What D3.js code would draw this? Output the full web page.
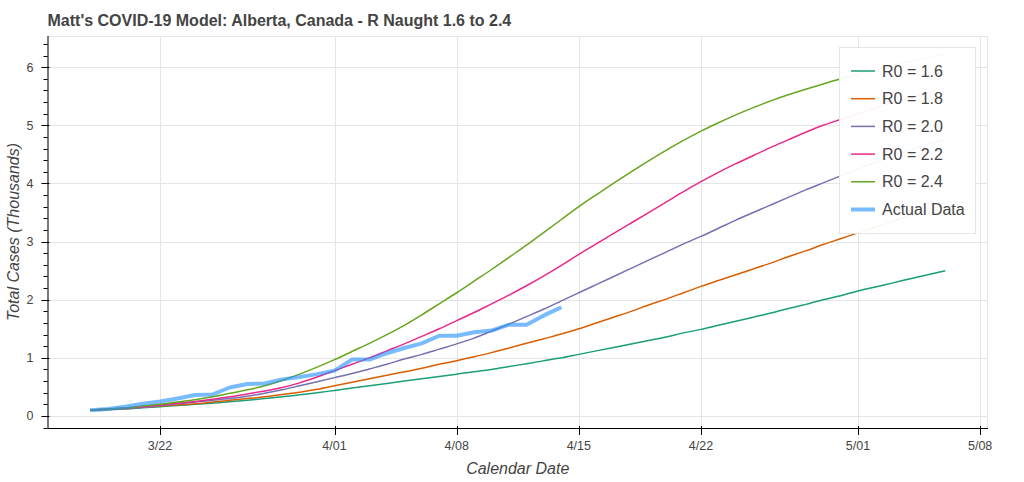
<!DOCTYPE html>
<html>
<head>
<meta charset="utf-8">
<script src="https://cdn.jsdelivr.net/npm/d3@7"></script>
<style>
  html, body { margin: 0; padding: 0; background: #fff; }
  svg { display: block; font-family: "Liberation Sans", Arial, Helvetica, sans-serif; }
</style>
</head>
<body>
<svg id="chart" width="1024" height="482"></svg>
<script>
// ---------- data ----------
const startDate = Date.UTC(2020, 2, 18); // 3/18
const seriesNames = ["R0 = 1.6", "R0 = 1.8", "R0 = 2.0", "R0 = 2.2", "R0 = 2.4"];
const seriesColors = ["#1b9e77", "#d95f02", "#7570b3", "#e7298a", "#66a61e"];

// model totals (thousands), one value per day from 3/18 to 5/06
const r16 = [0.10,0.11,0.12,0.14,0.16,0.18,0.20,0.22,0.245,0.27,0.30,0.33,0.365,0.40,
             0.44,0.48,0.52,0.56,0.60,0.64,0.68,0.72,0.76,0.80,0.85,0.90,0.95,1.00,
             1.06,1.12,1.18,1.24,1.30,1.36,1.43,1.49,1.56,1.63,1.70,1.77,1.85,1.92,
             2.00,2.07,2.15,2.22,2.29,2.36,2.43,2.50];
const r18 = [0.10,0.11,0.13,0.15,0.17,0.19,0.21,0.24,0.27,0.30,0.33,0.37,0.41,0.46,
             0.52,0.58,0.64,0.70,0.76,0.82,0.89,0.95,1.02,1.09,1.17,1.25,1.33,1.41,
             1.50,1.60,1.70,1.80,1.91,2.01,2.12,2.23,2.33,2.43,2.53,2.63,2.74,2.84,
             2.95,3.05,3.15,3.25,3.35,3.45,3.55,3.65];
const r20 = [0.10,0.12,0.13,0.15,0.18,0.21,0.24,0.27,0.30,0.34,0.39,0.45,0.52,0.59,
             0.66,0.73,0.81,0.89,0.98,1.06,1.15,1.24,1.34,1.46,1.58,1.71,1.84,1.98,
             2.12,2.26,2.40,2.54,2.68,2.82,2.96,3.09,3.23,3.37,3.50,3.63,3.76,3.89,
             4.01,4.13,4.25,4.36,4.47,4.57,4.67,4.76];
const r22 = [0.10,0.12,0.14,0.16,0.19,0.22,0.25,0.29,0.33,0.38,0.43,0.49,0.57,0.67,
             0.78,0.89,1.00,1.12,1.24,1.37,1.50,1.64,1.78,1.93,2.08,2.24,2.41,2.59,
             2.78,2.96,3.14,3.32,3.50,3.68,3.86,4.03,4.19,4.34,4.48,4.62,4.75,4.88,
             5.00,5.10,5.20,5.30,5.39,5.48,5.56,5.64];
const r24 = [0.10,0.12,0.14,0.17,0.20,0.24,0.28,0.33,0.39,0.45,0.52,0.61,0.72,0.84,
             0.97,1.11,1.25,1.40,1.56,1.74,1.93,2.12,2.32,2.52,2.73,2.94,3.16,3.38,
             3.60,3.805,4.005,4.20,4.39,4.57,4.74,4.90,5.045,5.18,5.305,5.42,5.525,5.62,
             5.71,5.80,5.88,5.95,6.03,6.10,6.16,6.23];
const modelSeries = [r16, r18, r20, r22, r24];

// actual reported totals (thousands), one value per day from 3/18 to 4/14
const actual = [0.10,0.12,0.16,0.21,0.25,0.30,0.36,0.37,0.49,0.55,0.56,0.63,0.67,0.72,
                0.78,0.97,0.97,1.08,1.17,1.25,1.38,1.38,1.44,1.47,1.57,1.57,1.73,1.87];

const xTickDates = [[3,22],[4,1],[4,8],[4,15],[4,22],[5,1],[5,8]];
const yTickValues = [0,1,2,3,4,5,6];

const titleText = "Matt's COVID-19 Model: Alberta, Canada - R Naught 1.6 to 2.4";
const xLabel = "Calendar Date";
const yLabel = "Total Cases (Thousands)";
const actualName = "Actual Data";

// ---------- layout ----------
const frame = {left: 47.5, right: 988, top: 36, bottom: 428};
const DAY = 86400000;
const dateOf = i => new Date(startDate + i * DAY);

const svg = d3.select("#chart");

// domains with 5% padding on each side (auto-range)
const nDays = r16.length;
const xMin = dateOf(0), xMax = dateOf(nDays - 1);
const xSpan = xMax - xMin;
const x = d3.scaleUtc()
  .domain([new Date(+xMin - 0.05 * xSpan), new Date(+xMax + 0.05 * xSpan)])
  .range([frame.left, frame.right]);

const allVals = modelSeries.flat().concat(actual);
const yLo = d3.min(allVals), yHi = d3.max(allVals);
const ySpan = yHi - yLo;
const y = d3.scaleLinear()
  .domain([yLo - 0.05 * ySpan, yHi + 0.05 * ySpan])
  .range([frame.bottom, frame.top]);

const xTicks = xTickDates.map(([m, d]) => new Date(Date.UTC(2020, m - 1, d)));
const fmt = d3.utcFormat("%-m/%d");

// grid
const grid = svg.append("g");
grid.selectAll(".gx").data(xTicks).join("line")
  .attr("x1", d => Math.round(x(d)) + 0.5).attr("x2", d => Math.round(x(d)) + 0.5)
  .attr("y1", frame.top).attr("y2", frame.bottom)
  .attr("stroke", "#e5e5e5").attr("stroke-width", 1);
grid.selectAll(".gy").data(yTickValues).join("line")
  .attr("x1", frame.left).attr("x2", frame.right)
  .attr("y1", d => Math.round(y(d)) + 0.5).attr("y2", d => Math.round(y(d)) + 0.5)
  .attr("stroke", "#e5e5e5").attr("stroke-width", 1);

// frame outline
svg.append("rect")
  .attr("x", frame.left + 0.5).attr("y", frame.top + 0.5)
  .attr("width", frame.right - frame.left - 1).attr("height", frame.bottom - frame.top)
  .attr("fill", "none").attr("stroke", "#e5e5e5");

// lines
const line = d3.line().x((d, i) => x(dateOf(i))).y(d => y(d)).curve(d3.curveMonotoneX);
const actualLine = d3.line().x((d, i) => x(dateOf(i))).y(d => y(d));
const plot = svg.append("g");
modelSeries.forEach((s, k) => {
  plot.append("path").datum(s)
    .attr("d", line)
    .attr("fill", "none")
    .attr("stroke", seriesColors[k])
    .attr("stroke-width", 1.5);
});
plot.append("path").datum(actual)
  .attr("d", actualLine)
  .attr("fill", "none")
  .attr("stroke", "#1e90ff")
  .attr("stroke-opacity", 0.6)
  .attr("stroke-width", 4)
  .attr("stroke-linejoin", "round");

// x axis
const xAxisG = svg.append("g").attr("transform", `translate(0,${frame.bottom})`);
xAxisG.append("line").attr("x1", frame.left).attr("x2", frame.right)
  .attr("y1", 0.5).attr("y2", 0.5).attr("stroke", "#000");
xAxisG.selectAll(".xt").data(xTicks).join("line")
  .attr("x1", d => Math.round(x(d)) + 0.5).attr("x2", d => Math.round(x(d)) + 0.5)
  .attr("y1", -2).attr("y2", 7).attr("stroke", "#000");
xAxisG.selectAll(".xl").data(xTicks).join("text")
  .attr("x", d => x(d)).attr("y", 22)
  .attr("text-anchor", "middle")
  .attr("font-size", "12.5px").attr("fill", "#444")
  .text(d => fmt(d));

// y axis
const yAxisG = svg.append("g").attr("transform", `translate(${frame.left},0)`);
yAxisG.append("line").attr("x1", 0.5).attr("x2", 0.5)
  .attr("y1", frame.top).attr("y2", frame.bottom).attr("stroke", "#000");
const yd = y.domain();
const minorTicks = d3.range(Math.ceil(yd[0] / 0.2), Math.floor(yd[1] / 0.2) + 1)
  .map(k => k * 0.2).filter(v => Math.abs(v - Math.round(v)) > 1e-6);
yAxisG.selectAll(".ymin").data(minorTicks).join("line")
  .attr("x1", -4).attr("x2", 0)
  .attr("y1", d => Math.round(y(d)) + 0.5).attr("y2", d => Math.round(y(d)) + 0.5)
  .attr("stroke", "#000");
yAxisG.selectAll(".ymaj").data(yTickValues).join("line")
  .attr("x1", -6).attr("x2", 2)
  .attr("y1", d => Math.round(y(d)) + 0.5).attr("y2", d => Math.round(y(d)) + 0.5)
  .attr("stroke", "#000");
yAxisG.selectAll(".yl").data(yTickValues).join("text")
  .attr("x", -14).attr("y", d => y(d)).attr("dy", "0.35em")
  .attr("text-anchor", "end")
  .attr("font-size", "12.5px").attr("fill", "#444")
  .text(d => d);

// axis labels
svg.append("text")
  .attr("x", (frame.left + frame.right) / 2).attr("y", 474)
  .attr("text-anchor", "middle")
  .attr("font-size", "16px").attr("font-style", "italic").attr("fill", "#444")
  .text(xLabel);
svg.append("text")
  .attr("transform", `translate(19,${(frame.top + frame.bottom) / 2}) rotate(-90)`)
  .attr("text-anchor", "middle")
  .attr("font-size", "16px").attr("font-style", "italic").attr("fill", "#444")
  .text(yLabel);

// title
svg.append("text")
  .attr("x", frame.left).attr("y", 26)
  .attr("font-size", "16px").attr("font-weight", "bold").attr("fill", "#444")
  .text(titleText);

// legend
const legendItems = seriesNames.map((n, k) => ({name: n, color: seriesColors[k], width: 1.5, opacity: 1}))
  .concat([{name: actualName, color: "#1e90ff", width: 4, opacity: 0.6}]);
const lg = svg.append("g");
lg.append("rect")
  .attr("x", 839.5).attr("y", 47.5).attr("width", 136).attr("height", 186)
  .attr("fill", "#fff").attr("fill-opacity", 0.95)
  .attr("stroke", "#e5e5e5");
const li = lg.selectAll(".li").data(legendItems).join("g")
  .attr("transform", (d, i) => `translate(0,${71 + i * 27.7})`);
li.append("line").attr("x1", 851).attr("x2", 875).attr("y1", 0).attr("y2", 0)
  .attr("stroke", d => d.color).attr("stroke-width", d => d.width)
  .attr("stroke-opacity", d => d.opacity);
li.append("text").attr("x", 882).attr("y", 0).attr("dy", "0.35em")
  .attr("font-size", "16px").attr("fill", "#444")
  .text(d => d.name);
</script>
</body>
</html>
